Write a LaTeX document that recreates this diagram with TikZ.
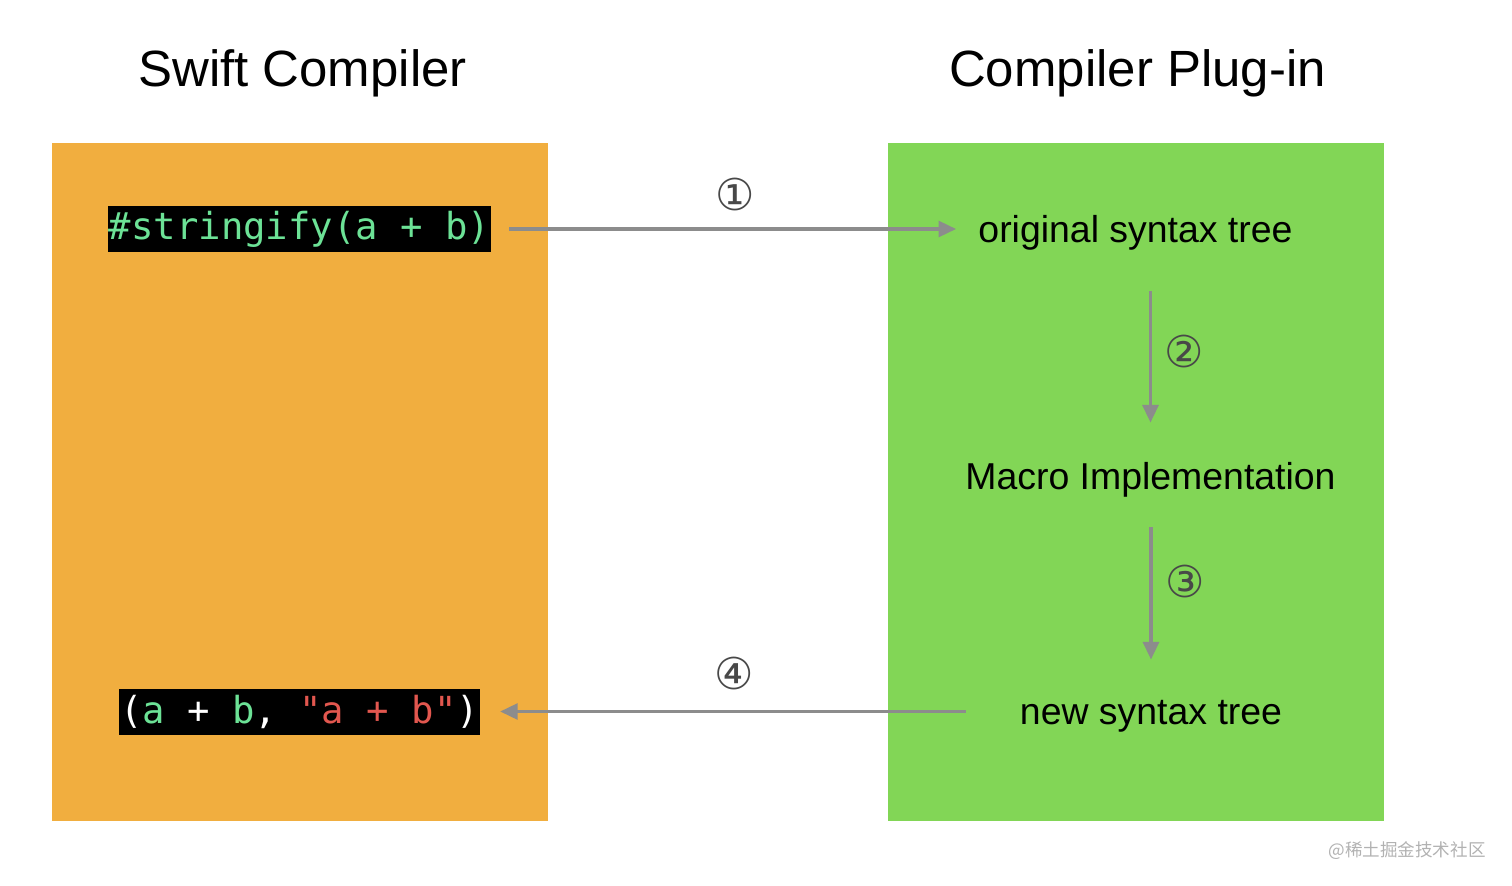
\documentclass[tikz,border=0pt]{standalone}
\usepackage{fontspec}
\setmainfont{Liberation Sans}
\setmonofont{DejaVu Sans Mono}
\newfontfamily\cercle{DejaVu Sans}
\newfontfamily\cjk{Noto Sans CJK SC}
\usetikzlibrary{arrows.meta}

\definecolor{fondorange}{RGB}{241,174,63}
\definecolor{fondvert}{RGB}{130,214,86}
\definecolor{codevert}{RGB}{108,226,150}
\definecolor{coderouge}{RGB}{226,87,79}
\definecolor{gris}{RGB}{140,140,140}
\definecolor{grisnum}{RGB}{72,72,72}
\definecolor{grismarque}{RGB}{178,178,178}

\tikzset{boite/.style = {minimum width=9.92cm, minimum height=13.56cm, inner sep=0},
         titre/.style = {anchor=base, inner sep=0, font=\fontsize{29}{34}\selectfont},
         etape/.style = {anchor=base, inner sep=0, text height=16pt, text depth=5.3pt,
                         font=\fontsize{21.3}{26}\selectfont},
         code/.style = {fill=black, inner xsep=0.5pt, inner ysep=0, minimum height=0.92cm,
                        font=\ttfamily\fontsize{21.2}{25}\selectfont},
         fleche/.style = {draw=gris, line width=1.9pt, -{Triangle[length=10pt,width=9pt]}},
         num/.style = {inner sep=0, text=grisnum, font=\cercle\fontsize{25}{30}\selectfont},
         marque/.style = {inner sep=0, text=grismarque, font=\cjk\fontsize{10}{12}\selectfont}
        }

\begin{document}
\begin{tikzpicture}[x=0.02cm, y=-0.02cm]
  \useasboundingbox (0,0) rectangle (1512,886);
  \node[boite, fill=fondorange] (swift) at (300,482) {};
  \node[boite, fill=fondvert] (plugin) at (1136,482) {};
  \node[titre] (tswift) at (302.5,86) {Swift Compiler};
  \node[titre] (tplugin) at (1137.5,86) {Compiler Plug-in};

  \node[code, text=codevert] (appel) at (299.5,229) {\#stringify(a + b)};
  \node[code, text=white] (resultat) at (299.5,711.5)
    {(\textcolor{codevert}{a} + \textcolor{codevert}{b}, \textcolor{coderouge}{"a + b"})};

  \node[etape] (orig) at (1135.5,242) {original syntax tree};
  \node[etape] (macro) at (1150.5,489) {Macro Implementation};
  \node[etape] (nouv) at (1151,724) {new syntax tree};

  \draw[fleche, shorten <=0.36cm, shorten >=0.44cm] (appel.east) -- (appel.east -| orig.west)
    node[num, midway, yshift=0.69cm] (n1) {①};
  \draw[fleche, shorten <=0.79cm, shorten >=0.76cm] (macro.north |- orig.south) -- (macro.north)
    node[num, pos=0.48, xshift=0.68cm] (n2) {②};
  \draw[fleche, shorten <=0.57cm, shorten >=0.72cm] (nouv.north |- macro.south) -- (nouv.north)
    node[num, pos=0.42, xshift=0.68cm] (n3) {③};
  \draw[fleche, shorten <=1.08cm, shorten >=0.4cm] (resultat.east -| nouv.west) -- (resultat.east)
    node[num, pos=0.53, yshift=0.77cm] (n4) {④};

  \node[marque] (jj) at (1407,851) {@稀土掘金技术社区};
\end{tikzpicture}
\end{document}
